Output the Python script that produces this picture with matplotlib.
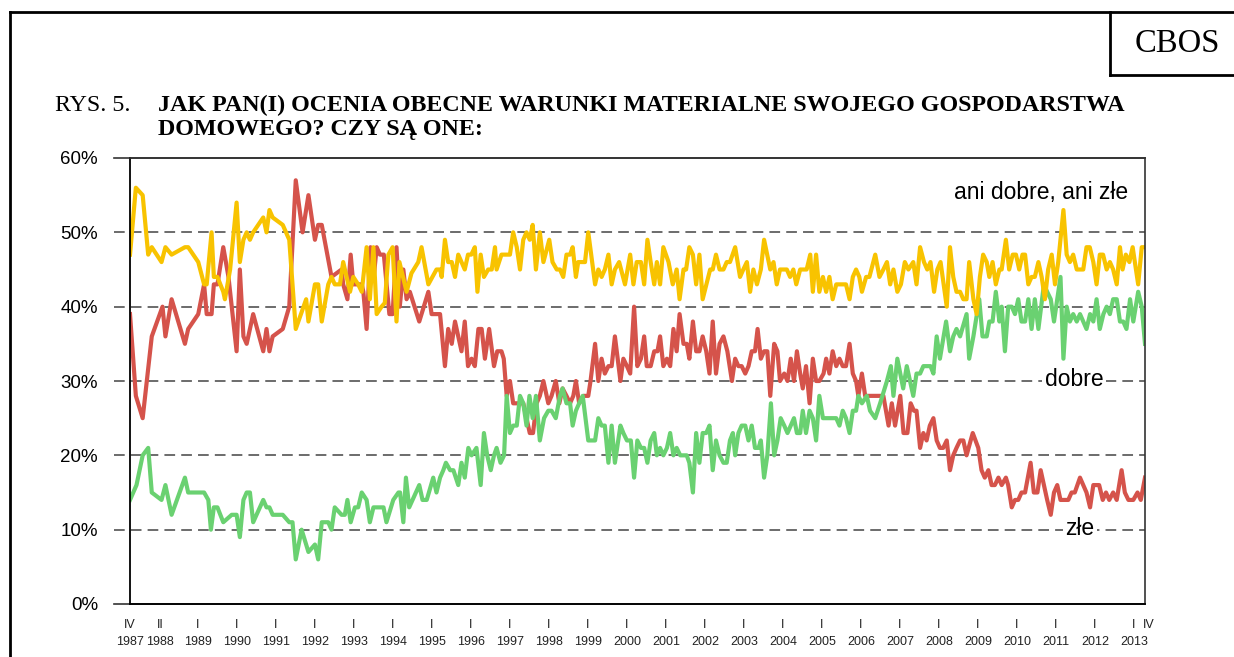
import matplotlib
matplotlib.use("Agg")
import matplotlib.pyplot as plt
from matplotlib.lines import Line2D

# pozycje na osi = kolejne badania (od IV 1987), wartosci w %
ani_x = [0, 1.8, 3.9, 5.6, 6.7, 9.7, 10.9, 12.8, 16.9, 17.9, 21, 22.8, 23.6, 25.1, 25.8, 26.9, 28.7, 29.2,
         30.8, 32.8, 33.8, 34.9, 35.9, 36.9, 37.9, 41, 42, 42.9, 43.9, 47, 49, 51, 54.2, 54.9, 56.9, 57.9,
         59, 61, 62, 63, 64.6, 65.6, 67.7, 68.7, 70.2, 71.3, 72.8, 73.8, 74.9, 75.9, 77.4, 78.4, 79.5, 80.8,
         82, 82.9, 85.1, 86.6, 88.7, 89.7, 91.8, 94.3, 95.4, 95.9, 96.9, 97.9, 99, 100, 101, 103, 104, 105,
         106.1, 106.9, 107.9, 108.9, 110.2, 111.3, 112.3, 112.8, 114.3, 116.9, 117.9, 119, 120, 121, 122,
         123, 123.9, 124.9, 126.1, 127.2, 129, 130, 131.3, 132.3, 133.3, 134.3, 135.4, 136.2, 137.2, 137.9,
         140, 141, 143.1, 144.1, 145.1, 146.1, 147.2, 148.2, 149.2, 150.5, 152.3, 153.9, 154.9, 155.9,
         157.2, 158.2, 159.2, 160.2, 161.3, 162.1, 163.1, 164.1, 165.7, 167, 168.2, 169.1, 170.3, 171.1,
         172.1, 173.2, 174.2, 175.2, 176.2, 178.5, 179.3, 180.3, 181.4, 182.6, 183.6, 184.6, 186.2, 187.7,
         188.7, 189.8, 190.8, 191.8, 192.9, 194.1, 195.1, 197, 198, 199, 200, 202.1, 203.1, 204.1, 205,
         206.2, 208.2, 209.3, 210.1, 211.1, 212.1, 213.2, 214.2, 215.2, 216.2, 217.3, 220.3, 221.4, 222.4,
         223.4, 224.4, 225.2, 226.5, 227.5, 229.3, 230.6, 231.8, 232.9, 233.9, 234.9, 236.1, 237.2, 238.4,
         239.5, 241, 242, 243.1, 244.3, 245.3, 246.3, 247.4, 248.4, 249.4, 251.3, 252.3, 253.3, 254.3,
         255.4, 256.4, 257.4, 258.2, 259.5, 260.5, 261.5, 262.5, 263.6, 264.4, 265.4, 266.4, 267.5, 268.2,
         269.5, 270.5, 271.6, 272.6, 273.6, 274.6, 275.4, 276.4, 277.4, 278.4, 279.5, 280.5, 281.5, 282.5,
         283.6, 284.6, 285.6, 287.2, 288.2, 289.2, 290.2, 291.3, 293.3, 294.3, 295.3, 296.4, 297.4, 298.4,
         299.4, 300.5, 301.5, 302.5, 303.6, 304.6, 305.4, 306.4, 307.5, 308.5, 310.2, 311.3, 312.3]
ani_y = [47, 56, 55, 47, 48, 46, 48, 47, 48, 48, 46, 43, 43, 50, 44, 44, 42, 41,
         45, 54, 46, 49, 50, 49, 50, 52, 50, 53, 52, 51, 49, 37, 41, 38, 43, 43,
         38, 43, 44, 43, 43, 46, 42, 44, 43, 42, 48, 41, 48, 39, 40, 40.5, 47, 48,
         38, 46, 42, 44.5, 46, 48, 43, 45, 45, 44, 49, 46, 46, 44, 47, 45, 47, 47,
         48, 42, 47, 44, 45, 45, 48, 45, 47, 47, 50, 48, 45, 49, 50,
         49, 51, 45, 50, 46, 49, 46, 45, 45, 44, 47, 47, 48, 44, 46,
         46, 50, 43, 45, 44, 45, 47, 43, 45, 46, 43, 47, 43, 46,
         46, 43, 49, 46, 43, 46, 43, 48, 46, 43, 45, 41, 45, 45,
         48, 47, 43, 47, 41, 45, 45, 47, 45, 45, 46, 46, 48, 44,
         45, 46, 42, 45, 43, 45, 49, 45, 46, 43, 45, 45, 44, 45, 43,
         45, 45, 47, 42, 47, 42, 44, 42, 44, 41, 43, 43, 41, 44,
         45, 44, 42, 44, 44, 47, 44, 45, 46, 43, 45, 42, 43, 46,
         45, 46, 43, 48, 46, 45, 46, 42, 45, 46, 40, 48, 44, 42,
         42, 41, 41, 46, 41, 39, 44, 47, 46, 44, 46, 43, 45, 45,
         49, 45, 47, 47, 45, 47, 47, 43, 44, 44, 46, 44, 41, 45,
         47, 43, 46, 53, 47, 46, 47, 45, 45, 48, 48, 46, 43, 47,
         47, 45, 46, 45, 43, 48, 45, 47, 46, 48, 43, 48, 48]

zle_x = [0, 1.8, 3.9, 6.7, 10, 10.9, 12.8, 16.9, 17.9, 21, 22.8, 23.6, 25.1, 25.8, 26.9, 28.7, 30.3, 32.8,
         33.8, 34.9, 35.9, 37.9, 41, 42, 42.9, 43.9, 47, 49, 51, 53.1, 54.9, 56.9, 57.9, 59, 62, 65.1, 65.6,
         66.9, 67.9, 68.7, 70.2, 71.3, 71.8, 72.8, 74, 75, 75.9, 76.9, 78.1, 79.8, 80.8, 82, 83, 84.1, 85.1,
         86.1, 89, 91.8, 92.8, 95.4, 96.9, 97.9, 99, 100, 101, 102, 103, 104, 105.1, 106.1, 107.2, 108.2,
         109.2, 110.5, 112, 113, 114.3, 115, 115.9, 116.9, 117.9, 120, 121, 122, 123, 124, 125.1, 126.1,
         127.2, 128.7, 129.7, 131, 132.1, 133.1, 134.3, 135.4, 136.4, 137.2, 138.2, 139.5, 141, 141.7,
         143.1, 144.1, 145.1, 146.1, 147.2, 148.2, 149.2, 150.9, 151.8, 152.9, 153.9, 155.1, 156.1, 157.2,
         158.2, 159, 160.2, 161.3, 162.3, 163.1, 164.1, 165.2, 166.2, 167.2, 168.2, 169.1, 170.3, 171.3,
         172.1, 173.2, 174.2, 175.2, 176.2, 177.3, 178.3, 179.3, 180.3, 181.4, 182.6, 183.8, 185.2, 186.2,
         187.2, 188.2, 189.3, 190.3, 191.3, 192.3, 193.1, 194.1, 195.1, 196.1, 197, 198.2, 199.2, 200,
         201.3, 202.3, 203.3, 204.3, 205.2, 206.2, 207, 208, 209.1, 210.1, 211.1, 212.1, 213.4, 214.2,
         215.2, 216.2, 217.3, 218.3, 219.3, 220.3, 221.4, 222.4, 223.4, 224.1, 225.2, 226.2, 231.8, 233.4,
         234.4, 235.4, 237, 238, 239.2, 240.2, 241.2, 242, 243.1, 244.1, 245.1, 246.1, 247.2, 248.2, 249.2,
         250.2, 251.3, 252.3, 253.3, 254.3, 255.4, 256.4, 257.4, 259.3, 261, 262, 263, 264.1, 265.1, 266.1,
         267.2, 268.2, 269.5, 270.2, 271.3, 272.3, 273.3, 274.3, 275.4, 277.1, 278.1, 279.2, 280.2, 281.2,
         282.2, 283.3, 284.3, 285.3, 286.3, 287.7, 288.7, 289.7, 290.7, 292.3, 293.3, 294.3, 295.4, 296.4,
         298.2, 299.3, 300.3, 301.3, 302.5, 303.6, 305.1, 306.1, 307.2, 308.7, 310, 311, 312.3]
zle_y = [39, 28, 25, 36, 40, 36, 41, 35, 37, 39, 43, 39, 39, 43, 43, 48, 44, 34,
         45, 36, 35, 39, 34, 37, 34, 36, 37, 40, 57, 50, 55, 49, 51, 51, 44, 45, 43,
         41, 47, 43, 43, 43, 42, 37, 48, 44, 48, 47, 47, 39, 39, 48, 40, 45, 41,
         42, 38, 42, 39, 39, 32, 37, 35, 38, 36, 34, 38, 32, 33, 32, 37, 37,
         33, 37, 32, 34, 34, 33, 28, 30, 27, 27, 27, 25, 23, 23, 27, 28,
         30, 27, 28, 30, 27, 29, 28, 27, 28, 30, 27, 28, 28, 30,
         35, 30, 33, 31, 32, 32, 36, 30, 33, 32, 31, 40, 32, 33,
         36, 32, 32, 34, 34, 36, 32, 33, 32, 37, 34, 39, 35, 35,
         33, 38, 34, 34, 36, 34, 31, 38, 31, 35, 36, 34, 30, 33,
         32, 32, 31, 32, 34, 34, 37, 33, 34, 34, 28, 35, 34, 30,
         31, 30, 33, 30, 34, 31, 29, 32, 27, 33, 30, 30, 31, 33,
         31, 34, 32, 33, 32, 32, 35, 31, 30, 28, 31, 28, 28, 24,
         27, 24, 28, 23, 23, 27, 26, 26, 21, 23, 22, 24, 25, 22, 21,
         21, 22, 18, 20, 21, 22, 22, 20, 23, 21, 18, 17, 18, 16, 16,
         17, 16, 17, 16, 13, 14, 14, 15, 15, 19, 15, 15, 18, 16,
         14, 12, 15, 16, 14, 14, 14, 15, 15, 17, 16, 15, 13, 16,
         16, 14, 15, 14, 15, 14, 18, 15, 14, 14, 15, 14, 17]

dobre_x = [0, 2, 3.9, 5.6, 6.7, 9.7, 10.9, 12.8, 16.9, 17.9, 22.8, 24.1, 24.9, 25.8, 26.9, 28.7, 31.3, 32.8,
           33.8, 34.9, 35.9, 36.9, 37.9, 41, 42, 42.9, 43.9, 47, 49, 50, 51, 52.8, 54.9, 56.9, 57.9, 59, 61,
           62, 63, 65.1, 66.1, 66.9, 67.9, 69.2, 70.2, 71.3, 72.8, 73.8, 74.9, 78, 78.9, 81, 82.6, 83.1, 84.1,
           84.9, 85.9, 89, 90, 91.3, 93.3, 94.3, 95.4, 96.4, 97.2, 98.5, 99.5, 101, 102, 103, 104.1, 105.1,
           106.6, 107.9, 108.9, 109.9, 111, 112, 112.8, 114, 115.1, 115.9, 116.9, 117.9, 119, 120, 121, 122,
           122.9, 123.9, 124.9, 126.1, 127.4, 128.7, 129.7, 131, 132.3, 133.1, 134.3, 135.4, 136.2, 137.2,
           138.2, 139.3, 141, 143.1, 144.1, 145.1, 146.1, 147.2, 148.2, 149.2, 150.9, 151.8, 152.9, 154.1,
           155.1, 156.1, 157.2, 158.2, 159.2, 160.2, 161.3, 162.1, 163.1, 164.1, 165.2, 166.2, 167.2, 168.2,
           169.3, 171.3, 172.1, 173.2, 174.2, 175.2, 176.2, 177.3, 178.3, 179.3, 180.3, 181.4, 182.6, 183.6,
           184.6, 185.5, 186.2, 187.2, 188.2, 189.3, 190.3, 191.3, 192.3, 193.4, 194.1, 195.1, 196.1, 197.2,
           198.2, 199.2, 200.2, 201.3, 202.3, 203.3, 204.3, 205.2, 206.2, 207, 208, 209.1, 210.1, 211.1,
           212.1, 213.2, 214.2, 217.3, 218.3, 219.3, 220.3, 221.4, 222.4, 223.4, 224.1, 225.2, 226.7, 227.7,
           229.3, 230.8, 232.9, 234.1, 234.9, 236.1, 237.9, 239, 240, 241, 242, 243.1, 244.1, 245.1, 246.3,
           247.2, 248.2, 249.2, 251.1, 252.3, 253.3, 254.3, 255.4, 257.4, 258.2, 259.5, 261.3, 262.3, 263.6,
           264.4, 265.4, 266.4, 267.5, 268.2, 269.2, 270.2, 271.3, 272.3, 273.3, 274.3, 275.4, 276.4, 277.4,
           278.4, 279.5, 281.2, 282.2, 283.3, 284.3, 285.3, 286.3, 287.2, 288.2, 289.2, 290.2, 291.3, 292.3,
           293.3, 294.3, 295.4, 296.4, 297.4, 298.4, 299.5, 300.5, 301.5, 302.5, 303.6, 304.6, 305.6, 306.6,
           307.7, 308.7, 310.2, 311.3, 312.3]
dobre_y = [14, 16, 20, 21, 15, 14, 16, 12, 17, 15, 15, 14, 10, 13, 13, 11, 12, 12,
           9, 14, 15, 15, 11, 14, 13, 13, 12, 12, 11, 11, 6, 10, 7, 8, 6, 11, 11,
           10, 13, 12, 12, 14, 11, 13, 13, 15, 14, 11, 13, 13, 11, 14, 15, 15, 11,
           17, 13, 16, 14, 14, 17, 15, 17, 18, 19, 18, 18, 16, 19, 17, 21, 20,
           21, 16, 23, 20, 18, 20, 21, 19, 20, 28, 23, 24, 24, 28, 27, 24,
           28, 25, 28, 22, 25, 26, 26, 25, 28, 29, 27, 27, 24, 26,
           27, 28, 22, 22, 25, 24, 24, 19, 24, 19, 24, 23, 22, 22,
           17, 22, 21, 21, 19, 22, 23, 20, 21, 20, 21, 23, 20, 21,
           20, 20, 19, 15, 23, 19, 23, 23, 24, 18, 22, 20, 19, 19,
           22, 23, 20, 23, 24, 24, 22, 24, 21, 21, 22, 17, 20, 27,
           20, 22, 25, 24, 23, 24, 25, 23, 23, 26, 23, 26, 25, 22,
           28, 25, 25, 25, 24, 26, 25, 23, 26, 26, 28, 27, 28, 26,
           25, 27, 30, 32, 28, 33, 29, 32, 30, 28, 31, 31, 32, 32, 32,
           31, 36, 33, 38, 34, 36, 37, 36, 39, 33, 36, 41, 36, 36,
           38, 38, 42, 38, 40, 34, 40, 40, 39, 41, 38, 38, 41, 37,
           41, 37, 43, 42, 41, 38, 41, 44, 33, 40, 38, 39, 38, 39,
           38, 37, 39, 38, 41, 37, 39, 40, 39, 41, 41, 38, 38, 37,
           41, 38, 42, 40, 35]

y_ticks = [0, 10, 20, 30, 40, 50, 60]
# etykiety osi X: kwartal + rok
x_tick_pos = [0, 9.2] + [20.9 + 12 * k for k in range(25)] + [313.6]
x_tick_q = ["IV", "II"] + ["I"] * 25 + ["IV"]
x_tick_year = ["1987", "1988"] + [str(1989 + k) for k in range(25)] + [""]

ZOLTY = "#f8c300"
CZERWONY = "#d5534b"
ZIELONY = "#6ad171"

W, H = 1234, 657
fig = plt.figure(figsize=(W / 100, H / 100), dpi=100)
ax = fig.add_axes([130 / W, 1 - 604 / H, 1015 / W, 446 / H])

ax.plot(zle_x, zle_y, color=CZERWONY, lw=3.0, solid_joinstyle="round")
ax.plot(dobre_x, dobre_y, color=ZIELONY, lw=3.0, solid_joinstyle="round")
ax.plot(ani_x, ani_y, color=ZOLTY, lw=3.0, solid_joinstyle="round")

ax.set_xlim(0, 312.3)
ax.set_ylim(0, 60)

# siatka przerywana, wystajaca w lewo jak znaczniki
ext = -16 / 1015
for v in y_ticks:
    if v in (0, 60):
        ax.axhline(v, xmin=ext, xmax=1, color="#333333", lw=1.2, clip_on=False, zorder=0.5)
    else:
        ax.axhline(v, xmin=ext, xmax=1, color="#444444", lw=1.1, dashes=(7, 4),
                   clip_on=False, zorder=0.5)

ax.set_yticks(y_ticks)
ax.set_yticklabels([f"{v}%" for v in y_ticks], fontsize=13.5, family="Liberation Sans")
ax.tick_params(axis="y", length=0, pad=23)
ax.set_xticks([])
for s in ["left", "bottom"]:
    ax.spines[s].set_color("black")
    ax.spines[s].set_linewidth(1.3)
for s in ["top", "right"]:
    ax.spines[s].set_color("#333333")
    ax.spines[s].set_linewidth(1.2)

tr = ax.get_xaxis_transform()
for p, q, yr in zip(x_tick_pos, x_tick_q, x_tick_year):
    ax.text(p, -0.047, q, transform=tr, ha="center", va="center", fontsize=9,
            family="Liberation Sans", color="#222222")
    if yr:
        ax.text(p, -0.086, yr, transform=tr, ha="center", va="center", fontsize=9,
                family="Liberation Sans", color="#222222")

lab = dict(fontsize=16.5, family="Liberation Sans", color="black")
ax.text(307, 55.3, "ani dobre, ani złe", ha="right", va="center", **lab)
ax.text(290.5, 30.2, "dobre", ha="center", va="center",
        bbox=dict(fc="white", ec="none", pad=2), **lab)
ax.text(292.3, 10.2, "złe", ha="center", va="center",
        bbox=dict(fc="white", ec="none", pad=2), **lab)

# tytul
fig.text(55 / W, 1 - 111 / H, "RYS. 5.", family="Liberation Serif", fontsize=17.3, va="baseline")
fig.text(158 / W, 1 - 111 / H, "JAK PAN(I) OCENIA OBECNE WARUNKI MATERIALNE SWOJEGO GOSPODARSTWA",
         family="Liberation Serif", fontsize=17.3, weight="bold", va="baseline")
fig.text(158 / W, 1 - 135 / H, "DOMOWEGO? CZY SĄ ONE:",
         family="Liberation Serif", fontsize=17.3, weight="bold", va="baseline")

# ramka strony i pole CBOS
def linia(x0, y0, x1, y1):
    fig.add_artist(Line2D([x0 / W, x1 / W], [1 - y0 / H, 1 - y1 / H], color="black", lw=2.0))

linia(10, 12, W, 12)
linia(10, 12, 10, H)
linia(1110, 12, 1110, 75)
linia(1110, 75, W, 75)
fig.text(1177 / W, 1 - 44 / H, "CBOS", family="Liberation Serif", fontsize=23.5, ha="center", va="center")

fig.savefig("out.png", dpi=100)
